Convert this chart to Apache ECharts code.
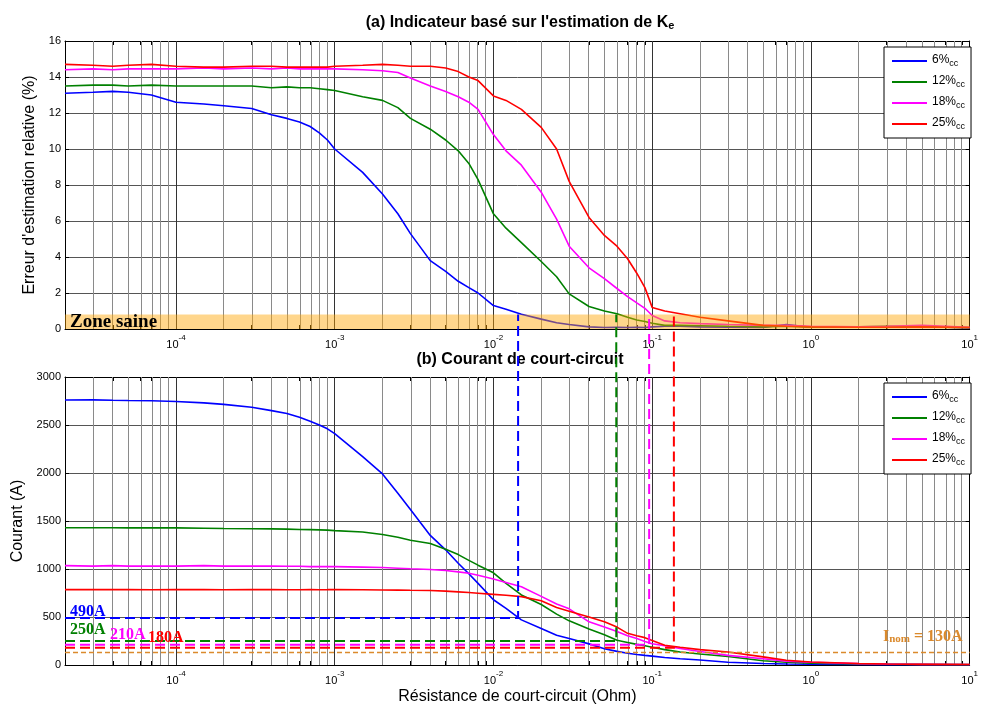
<!DOCTYPE html>
<html><head><meta charset="utf-8">
<script src="https://cdn.jsdelivr.net/npm/echarts@6/dist/echarts.min.js"></script>
<style>html,body{margin:0;padding:0;background:#fff}#c{width:981px;height:706px}</style>
</head><body><div id="c"></div>
<script>
// ---------- data ----------
const resistanceOhm = [2e-5,3e-5,4e-5,5e-5,7e-5,1e-4,1.5e-4,2e-4,3e-4,4e-4,5e-4,6e-4,7e-4,8e-4,9e-4,1e-3,1.5e-3,2e-3,2.5e-3,3e-3,4e-3,5e-3,6e-3,7e-3,8e-3,1e-2,1.2e-2,1.5e-2,2e-2,2.5e-2,3e-2,4e-2,5e-2,6e-2,7e-2,8e-2,9e-2,0.1,0.12,0.15,0.2,0.3,0.5,0.7,1,2,3,5,10];
const seriesNames = ['6%cc','12%cc','18%cc','25%cc'];
// (a) relative estimation error (%)
const err6  = [13.1,13.15,13.2,13.15,13.0,12.6,12.5,12.4,12.25,11.9, 11.7,11.5,11.25,10.9,10.5,10.0,8.7,7.5,6.4,5.3, 3.8,3.2,2.65,2.3,2.0,1.3,1.1,0.82,0.55,0.35, 0.25,0.12,0.08,0.1,0.08,0.1,0.08,0.12,0.15,0.15, 0.12,0.1,0.08,0.25,0.1,0.1,0.1,0.15,0.05];
const err12 = [13.5,13.55,13.55,13.5,13.55,13.5,13.5,13.5,13.5,13.4, 13.45,13.4,13.4,13.35,13.3,13.25,12.9,12.7,12.3,11.7, 11.1,10.5,9.9,9.2,8.3,6.4,5.6,4.8,3.75,2.9, 1.95,1.25,1.0,0.85,0.65,0.5,0.42,0.32,0.2,0.2, 0.18,0.15,0.12,0.15,0.1,0.12,0.15,0.12,0.08];
const err18 = [14.4,14.45,14.4,14.45,14.45,14.45,14.5,14.45,14.5,14.45, 14.5,14.45,14.45,14.45,14.45,14.45,14.4,14.35,14.25,13.95, 13.5,13.2,12.9,12.6,12.2,10.8,9.9,9.1,7.6,6.1, 4.6,3.4,2.8,2.25,1.8,1.45,1.15,0.75,0.45,0.35, 0.3,0.25,0.2,0.2,0.15,0.12,0.15,0.2,0.1];
const err25 = [14.7,14.65,14.6,14.65,14.7,14.6,14.55,14.55,14.6,14.6, 14.55,14.55,14.55,14.55,14.55,14.6,14.65,14.7,14.65,14.6, 14.6,14.5,14.3,14.0,13.8,12.95,12.7,12.2,11.2,10.0, 8.2,6.2,5.2,4.6,3.9,3.1,2.3,1.2,1.0,0.85, 0.65,0.45,0.2,0.15,0.12,0.1,0.1,0.12,0.08];
// (b) short-circuit current (A)
const cur6  = [2760,2762,2758,2755,2752,2745,2730,2715,2685,2650, 2620,2580,2540,2500,2460,2410,2170,1990,1790,1620, 1350,1200,1060,950,850,680,590,470,380,310, 275,220,170,142,122,110,100,92,78,65, 52,28,15,10,8,5,4,3,2];
const cur12 = [1430,1430,1430,1428,1428,1428,1425,1422,1420,1418, 1415,1412,1410,1408,1405,1400,1385,1360,1330,1300, 1265,1205,1150,1090,1040,960,850,730,630,530, 460,375,315,258,235,215,200,185,160,135, 115,88,45,28,20,10,8,6,4];
const cur18 = [1035,1030,1035,1030,1032,1030,1035,1030,1030,1030, 1028,1028,1025,1025,1025,1025,1020,1015,1008,1002, 995,985,970,955,935,895,860,815,715,635, 585,450,395,350,305,275,245,222,200,172, 140,100,65,40,28,14,10,7,5];
const cur25 = [785,786,785,785,784,785,785,784,785,785, 784,784,785,784,785,786,784,782,780,778, 776,770,762,755,748,736,726,712,670,600, 560,500,450,395,330,305,285,255,205,185, 160,135,85,50,32,15,10,7,5];
// thresholds
const thresholdR = [0.0143, 0.0594, 0.0957, 0.137];
const thresholdI = [490, 250, 210, 180];
const thresholdLabels = ['490A','250A','210A','180A'];
const nominalCurrent = 130;
const healthyZoneMax = 0.8;
const xMinOhm = 2e-5, xMaxOhm = 10;
const decadeExponents = [-4,-3,-2,-1,0,1];

// ---------- styling ----------
const colors = ['#0000FF','#008000','#FF00FF','#FF0000'];
const SANS = "'Liberation Sans', Arial, sans-serif";
const SERIF = "'Liberation Serif', 'Times New Roman', serif";
const ORANGE = '#DB8A2C';
const logMin = Math.log10(xMinOhm), logMax = Math.log10(xMaxOhm);
const logR = resistanceOhm.map(r => Math.log10(r));
const pairs = vals => logR.map((x, i) => [x, vals[i]]);

const gridLineVals = [];
for (let d = -5; d <= 1; d++) for (let k = 1; k <= 9; k++) {
  const v = Math.log10(k * Math.pow(10, d));
  if (v > logMin + 1e-6 && v < logMax - 1e-6) gridLineVals.push({v, major: k === 1});
}
const tickVals = gridLineVals.map(g => g.v);

const labelRich = {
  b: {fontSize: 11, fontFamily: SANS, color: '#000', lineHeight: 16, verticalAlign: 'bottom'},
  s: {fontSize: 8, fontFamily: SANS, color: '#000', lineHeight: 8, verticalAlign: 'top'}
};
function xAxisBottom(gridIndex, name) {
  return {
    type: 'value', gridIndex, position: 'bottom', min: logMin, max: logMax,
    axisLine: {show: true, onZero: false, lineStyle: {color: '#000', width: 1}},
    axisTick: {show: true, inside: true, length: 4, customValues: tickVals, lineStyle: {color: '#000'}},
    splitLine: {show: false},
    axisLabel: {customValues: decadeExponents, margin: 5, showMinLabel: true, showMaxLabel: true,
      formatter: v => '{b|10}{s|' + Math.round(v) + '}', rich: labelRich},
    name: name || '', nameLocation: 'middle', nameGap: 24,
    nameTextStyle: {fontSize: 16, fontFamily: SANS, color: '#000'}
  };
}
function xAxisTop(gridIndex) {
  return {
    type: 'value', gridIndex, position: 'top', min: logMin, max: logMax,
    axisLine: {show: true, onZero: false, lineStyle: {color: '#000', width: 1}},
    axisTick: {show: true, inside: true, length: 4, customValues: tickVals, lineStyle: {color: '#000'}},
    splitLine: {show: false}, axisLabel: {show: false}
  };
}
function yAxisLeft(gridIndex, max, interval, name, gap) {
  return {
    type: 'value', gridIndex, position: 'left', min: 0, max, interval,
    axisLine: {show: true, onZero: false, lineStyle: {color: '#000', width: 1}},
    axisTick: {show: true, inside: true, length: 4, lineStyle: {color: '#000'}},
    splitLine: {show: true, lineStyle: {color: '#555', width: 1}},
    axisLabel: {margin: 4, fontSize: 11, fontFamily: SANS, color: '#000', formatter: v => String(v)},
    name, nameLocation: 'middle', nameGap: gap,
    nameTextStyle: {fontSize: 16, fontFamily: SANS, color: '#000'}
  };
}
function yAxisRight(gridIndex, max, interval) {
  return {
    type: 'value', gridIndex, position: 'right', min: 0, max, interval,
    axisLine: {show: true, onZero: false, lineStyle: {color: '#000', width: 1}},
    axisTick: {show: true, inside: true, length: 4, lineStyle: {color: '#000'}},
    splitLine: {show: false}, axisLabel: {show: false}
  };
}
function gridSeries(xi, yi) {
  return {
    type: 'line', xAxisIndex: xi, yAxisIndex: yi, data: [], z: 1, silent: true,
    markLine: {
      silent: true, symbol: ['none','none'], z: 1, animation: false,
      label: {show: false},
      data: gridLineVals.map(g => ({xAxis: g.v, lineStyle: {color: g.major ? '#333' : '#8a8a8a', width: 1, type: 'solid'}}))
    }
  };
}
function curveSeries(xi, yi, arrays) {
  return arrays.map((vals, i) => ({
    name: seriesNames[i], type: 'line', xAxisIndex: xi, yAxisIndex: yi,
    data: pairs(vals), showSymbol: false, symbol: 'none', z: 3,
    lineStyle: {color: colors[i], width: 1.6}, itemStyle: {color: colors[i]}, animation: false
  }));
}
const legendRich = {
  n: {fontSize: 12, fontFamily: SANS, color: '#000', lineHeight: 14, verticalAlign: 'top'},
  s: {fontSize: 9, fontFamily: SANS, color: '#000', lineHeight: 10, verticalAlign: 'bottom', padding: [6, 0, 0, 0]}
};
function legendAt(top) {
  return {
    data: seriesNames.map(n => ({name: n, icon: 'rect'})), orient: 'vertical', left: 884, top,
    padding: [6, 6, 7, 8], itemGap: 6, itemWidth: 35, itemHeight: 2,
    backgroundColor: '#fff', borderColor: '#000', borderWidth: 1, selectedMode: false,
    formatter: name => { const m = name.match(/^(\d+%)(cc)$/); return '{n|' + m[1] + '}{s|' + m[2] + '}'; },
    textStyle: {rich: legendRich}
  };
}

const option = {
  animation: false,
  backgroundColor: '#fff',
  title: [
    {text: "{t|(a) Indicateur basé sur l'estimation de K}{e|e}", left: 520, top: 9, textAlign: 'center', padding: 0,
     textStyle: {rich: {t: {fontSize: 16, fontWeight: 'bold', fontFamily: SANS, color: '#000', lineHeight: 22, verticalAlign: 'bottom'},
                        e: {fontSize: 11, fontWeight: 'bold', fontFamily: SANS, color: '#000', lineHeight: 11, verticalAlign: 'bottom'}}}},
    {text: '(b) Courant de court-circuit', left: 520, top: 351, textAlign: 'center', padding: 0,
     textStyle: {fontSize: 16, fontWeight: 'bold', fontFamily: SANS, color: '#000', lineHeight: 18}}
  ],
  grid: [
    {left: 65, top: 41, width: 909, height: 288, containLabel: false},
    {left: 65, top: 377, width: 909, height: 289, containLabel: false}
  ],
  xAxis: [xAxisBottom(0), xAxisTop(0), xAxisBottom(1, 'Résistance de court-circuit (Ohm)'), xAxisTop(1)],
  yAxis: [yAxisLeft(0, 16, 2, "Erreur d'estimation relative (%)", 20), yAxisRight(0, 16, 2),
          yAxisLeft(1, 3000, 500, 'Courant (A)', 29), yAxisRight(1, 3000, 500)],
  legend: [legendAt(47), legendAt(383)],
  series: [
    gridSeries(0, 0), gridSeries(2, 2),
    ...curveSeries(0, 0, [err6, err12, err18, err25]),
    ...curveSeries(2, 2, [cur6, cur12, cur18, cur25]),
    {
      type: 'line', xAxisIndex: 0, yAxisIndex: 0, data: [], z: 5, silent: true,
      markArea: {
        silent: true, z: 5,
        itemStyle: {color: 'rgba(255,165,0,0.45)'},
        label: {show: true, position: 'insideLeft', distance: 5, color: '#000', fontFamily: SERIF, fontWeight: 'bold', fontSize: 19},
        data: [[{yAxis: 0, name: 'Zone saine'}, {yAxis: healthyZoneMax}]]
      }
    },
    {
      type: 'line', xAxisIndex: 2, yAxisIndex: 2, z: 4, silent: true, symbol: 'none', showSymbol: false,
      data: [[logMin, nominalCurrent], [logMax, nominalCurrent]],
      lineStyle: {color: ORANGE, width: 1.6, type: [5, 3]}
    }
  ]
};

const chart = echarts.init(document.getElementById('c'), null, {renderer: 'canvas', width: 981, height: 706});
chart.setOption(option);

// dashed threshold guides, placed with the chart's own scales
const graphics = [];
thresholdR.forEach((r, i) => {
  const lx = Math.log10(r);
  const p1 = chart.convertToPixel({xAxisIndex: 2, yAxisIndex: 2}, [logMin, thresholdI[i]]);
  const p2 = chart.convertToPixel({xAxisIndex: 2, yAxisIndex: 2}, [lx, thresholdI[i]]);
  const p3 = chart.convertToPixel({xAxisIndex: 0, yAxisIndex: 0}, [lx, healthyZoneMax]);
  graphics.push({type: 'polyline', silent: true, z: 10,
    shape: {points: [p1, p2, p3]},
    style: {stroke: colors[i], lineWidth: 2, lineDash: [10, 5], fill: null}});
});
const labelPos = [[70, 612], [70, 630], [110, 635], [148, 638]];
thresholdLabels.forEach((t, i) => {
  graphics.push({type: 'text', silent: true, z: 11, x: labelPos[i][0], y: labelPos[i][1],
    style: {text: t, fill: colors[i], font: 'bold 16px ' + SERIF, verticalAlign: 'middle', align: 'left'}});
});
graphics.push({type: 'text', silent: true, z: 11, x: 883, y: 636,
  style: {text: '{a|I}{b|nom}{a| = ' + nominalCurrent + 'A}', verticalAlign: 'middle', align: 'left',
    rich: {a: {fontSize: 16, fontWeight: 'bold', fontFamily: SERIF, fill: ORANGE, color: ORANGE, lineHeight: 18, verticalAlign: 'bottom'},
           b: {fontSize: 11, fontWeight: 'bold', fontFamily: SERIF, fill: ORANGE, color: ORANGE, lineHeight: 11, verticalAlign: 'bottom'}}}});
chart.setOption({graphic: graphics});
</script>
</body></html>
